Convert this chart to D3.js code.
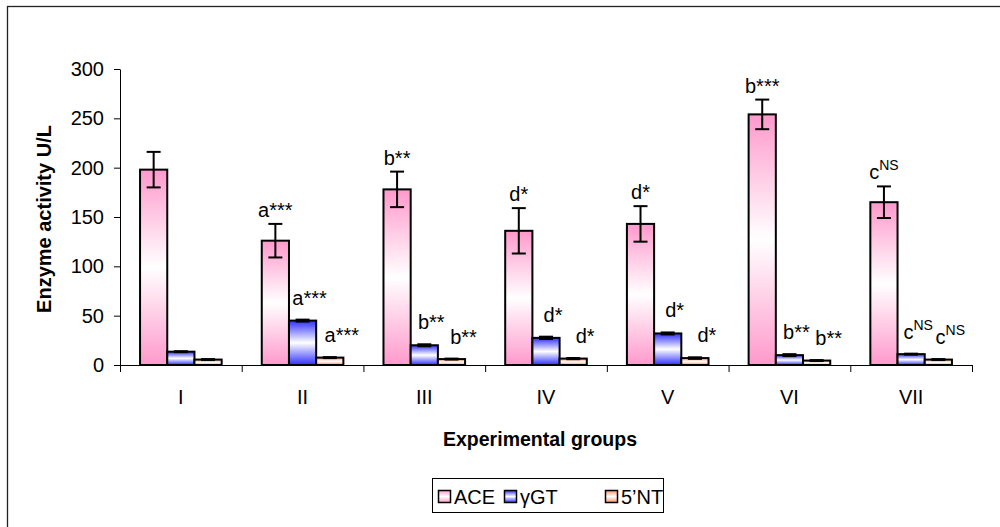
<!DOCTYPE html>
<html>
<head>
<meta charset="utf-8">
<script src="https://cdn.jsdelivr.net/npm/d3@7/dist/d3.min.js"></script>
<style>
  html, body { margin: 0; padding: 0; background: #fff; }
  svg { display: block; font-family: "Liberation Sans", Arial, sans-serif; }
</style>
</head>
<body>
<svg id="chart" width="1000" height="527"></svg>
<script>
// ---- data ----
const groups = ["I", "II", "III", "IV", "V", "VI", "VII"];
const seriesNames = ["ACE", "γGT", "5’NT"];
const aceValues = [198, 126, 178, 136, 143, 254, 165];
const aceErrors = [18, 17, 18, 23, 18, 15, 16];
const ggtValues = [13.5, 45, 20, 27.5, 32, 10, 11];
const ggtErrors = [0.5, 1, 1, 1.2, 1, 1, 0.5];
const ntValues = [5.5, 7.5, 6, 6.5, 7, 4.5, 5.5];
const ntErrors = [0.5, 0.5, 0.5, 0.6, 0.8, 0.5, 0.5];
const aceLabels = ["", "a***", "b**", "d*", "d*", "b***", "c^NS"];
const ggtLabels = ["", "a***", "b**", "d*", "d*", "b**", "c^NS"];
const ntLabels = ["", "a***", "b**", "d*", "d*", "b**", "c^NS"];
const yTicks = [0, 50, 100, 150, 200, 250, 300];

const series = [
  { name: seriesNames[0], values: aceValues, errors: aceErrors, labels: aceLabels, color: "#ff99cc", id: "gAce", dx: 0, gap: 7 },
  { name: seriesNames[1], values: ggtValues, errors: ggtErrors, labels: ggtLabels, color: "#2f2fff", id: "gGgt", dx: 7, gap: 15 },
  { name: seriesNames[2], values: ntValues, errors: ntErrors, labels: ntLabels, color: "#ff8f66", id: "gNt", dx: 12, gap: 15 }
];

const svg = d3.select("#chart");
const FONT = 20;

// outer frame
svg.append("rect").attr("x", 7.5).attr("y", 6.5).attr("width", 1100).attr("height", 600)
  .attr("fill", "none").attr("stroke", "#222").attr("stroke-width", 1.3);

// gradients
const defs = svg.append("defs");
series.forEach(s => {
  const g = defs.append("linearGradient").attr("id", s.id)
    .attr("x1", 0).attr("y1", 0).attr("x2", 0).attr("y2", 1);
  g.append("stop").attr("offset", "0%").attr("stop-color", s.color);
  g.append("stop").attr("offset", "50%").attr("stop-color", "#ffffff");
  g.append("stop").attr("offset", "100%").attr("stop-color", s.color);
});

// scales
const y = d3.scaleLinear().domain([0, 300]).range([365, 69]);
const x0 = d3.scaleBand().domain(groups).range([120, 972]).paddingInner(0).paddingOuter(0);
const x1 = d3.scaleBand().domain(seriesNames).range([0, x0.bandwidth()]).paddingInner(0).paddingOuter(0.737);

// y axis
const yAxis = svg.append("g").attr("transform", "translate(120,0)")
  .call(d3.axisLeft(y).tickValues(yTicks).tickSize(6).tickSizeOuter(0).tickPadding(10));
yAxis.selectAll("text").attr("font-size", FONT).attr("fill", "#000").attr("font-family", "Liberation Sans, Arial, sans-serif");
yAxis.selectAll("line,path").attr("stroke", "#000");

// x axis
const xAxis = svg.append("g").attr("transform", "translate(0,365)")
  .call(d3.axisBottom(x0).tickSize(0).tickSizeOuter(0).tickPadding(25));
xAxis.select("path").attr("stroke", "#000");
xAxis.selectAll("text").attr("font-size", FONT).attr("fill", "#000").attr("font-family", "Liberation Sans, Arial, sans-serif");
const edges = groups.map(g => x0(g)).concat([x0.range()[1]]);
xAxis.selectAll("line.edge").data(edges).enter().append("line").attr("class", "edge")
  .attr("x1", d => d + 0.5).attr("x2", d => d + 0.5).attr("y1", 0).attr("y2", 7).attr("stroke", "#000");

// bars
series.forEach(s => {
  const g = svg.append("g");
  groups.forEach((grp, i) => {
    const bx = x0(grp) + x1(s.name);
    const bw = x1.bandwidth();
    const v = s.values[i], e = s.errors[i];
    g.append("rect").attr("x", bx).attr("y", y(v)).attr("width", bw).attr("height", y(0) - y(v))
      .attr("fill", `url(#${s.id})`).attr("stroke", "#000").attr("stroke-width", 2);
    const cx = bx + bw / 2;
    g.append("line").attr("x1", cx).attr("x2", cx).attr("y1", y(v + e)).attr("y2", y(v - e))
      .attr("stroke", "#000").attr("stroke-width", 2);
    [v + e, v - e].forEach(t => {
      g.append("line").attr("x1", cx - 7).attr("x2", cx + 7).attr("y1", y(t)).attr("y2", y(t))
        .attr("stroke", "#000").attr("stroke-width", 2);
    });
    const lab = s.labels[i];
    if (lab) {
      const parts = lab.split("^");
      const t = svg.append("text").attr("x", cx + s.dx).attr("y", y(v + e) - s.gap)
        .attr("text-anchor", "middle").attr("font-size", FONT).attr("fill", "#000");
      t.append("tspan").text(parts[0]);
      if (parts[1]) t.append("tspan").attr("font-size", 14).attr("dy", -9).text(parts[1]);
    }
  });
});

// axis titles
svg.append("text").attr("transform", "translate(51,219) rotate(-90)").attr("text-anchor", "middle")
  .attr("font-size", FONT).attr("font-weight", "bold").text("Enzyme activity U/L");
svg.append("text").attr("x", 540).attr("y", 446).attr("text-anchor", "middle")
  .attr("font-size", 19.5).attr("font-weight", "bold").text("Experimental groups");

// legend
const lg = svg.append("g");
lg.append("rect").attr("x", 432.5).attr("y", 478.5).attr("width", 231).attr("height", 34)
  .attr("fill", "#fff").attr("stroke", "#000").attr("stroke-width", 1);
const legX = [438, 504, 605];
series.forEach((s, i) => {
  lg.append("rect").attr("x", legX[i] + 0.5).attr("y", 490.5).attr("width", 12).attr("height", 12)
    .attr("fill", `url(#${s.id})`).attr("stroke", "#000").attr("stroke-width", 1.5);
  lg.append("text").attr("x", legX[i] + 16).attr("y", 503.5).attr("font-size", FONT).text(s.name);
});
</script>
</body>
</html>
